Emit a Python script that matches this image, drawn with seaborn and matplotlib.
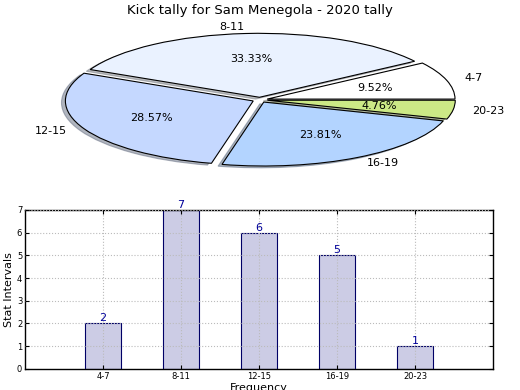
import matplotlib
matplotlib.use('Agg')
import matplotlib.pyplot as plt
import seaborn as sns
import pandas as pd

intervals = ['4-7', '8-11', '12-15', '16-19', '20-23']
kicks = [2, 7, 6, 5, 1]
pie_colors = ['#ffffff', '#eaf2ff', '#c5d8ff', '#b3d4ff', '#cce986']

sns.set_style('white')
plt.rcParams['font.family'] = ['DejaVu Sans']
plt.rcParams['text.color'] = 'black'
plt.rcParams['axes.labelcolor'] = 'black'
plt.rcParams['xtick.color'] = 'black'
plt.rcParams['ytick.color'] = 'black'

fig = plt.figure(figsize=(5.2, 3.9), dpi=100)
fig.text(0.5, 0.972, 'Kick tally for Sam Menegola - 2020 tally', ha='center', va='center', fontsize=9.5)

# pie on top, squashed
ax1 = fig.add_axes([0.0485, 0.539, 0.903, 0.41])
wedges, texts, autotexts = ax1.pie(kicks, labels=intervals, colors=pie_colors,
                                   explode=[0.04] * len(kicks),
                                   shadow={'ox': -0.015, 'oy': -0.02, 'shade': 0.5},
                                   autopct='%1.2f%%', startangle=0,
                                   wedgeprops={'edgecolor': 'black', 'linewidth': 0.8},
                                   textprops={'fontsize': 8})
ax1.set_aspect('auto')
ax1.set_xlim(-1.25, 1.25)
ax1.set_ylim(-1.25, 1.25)

# bar chart below
df = pd.DataFrame({'interval': intervals, 'kicks': kicks})
ax2 = fig.add_axes([0.048, 0.054, 0.900, 0.408])
sns.barplot(data=df, x='interval', y='kicks', color='#ccccE5', edgecolor='#000066',
            linewidth=0.8, width=0.45, saturation=1, ax=ax2)
for i, v in enumerate(kicks):
    ax2.text(i, v, str(v), ha='center', va='bottom', color='#000099', fontsize=8)
ax2.set_xlim(-1, 5)
ax2.set_ylim(0, 7)
ax2.set_yticks(range(8))
ax2.grid(True, color='#bbbbbb', linestyle=':', linewidth=0.8)
ax2.set_axisbelow(False)
ax2.tick_params(axis='both', labelsize=6, direction='in', length=3, top=True, right=True,
                bottom=True, left=True, pad=2)
ax2.set_ylabel('Stat Intervals', fontsize=8, labelpad=2)
ax2.set_xlabel('Frequency', fontsize=8, labelpad=2)
for s in ax2.spines.values():
    s.set_color('black')
    s.set_linewidth(1)

fig.savefig('out.png', dpi=100)
